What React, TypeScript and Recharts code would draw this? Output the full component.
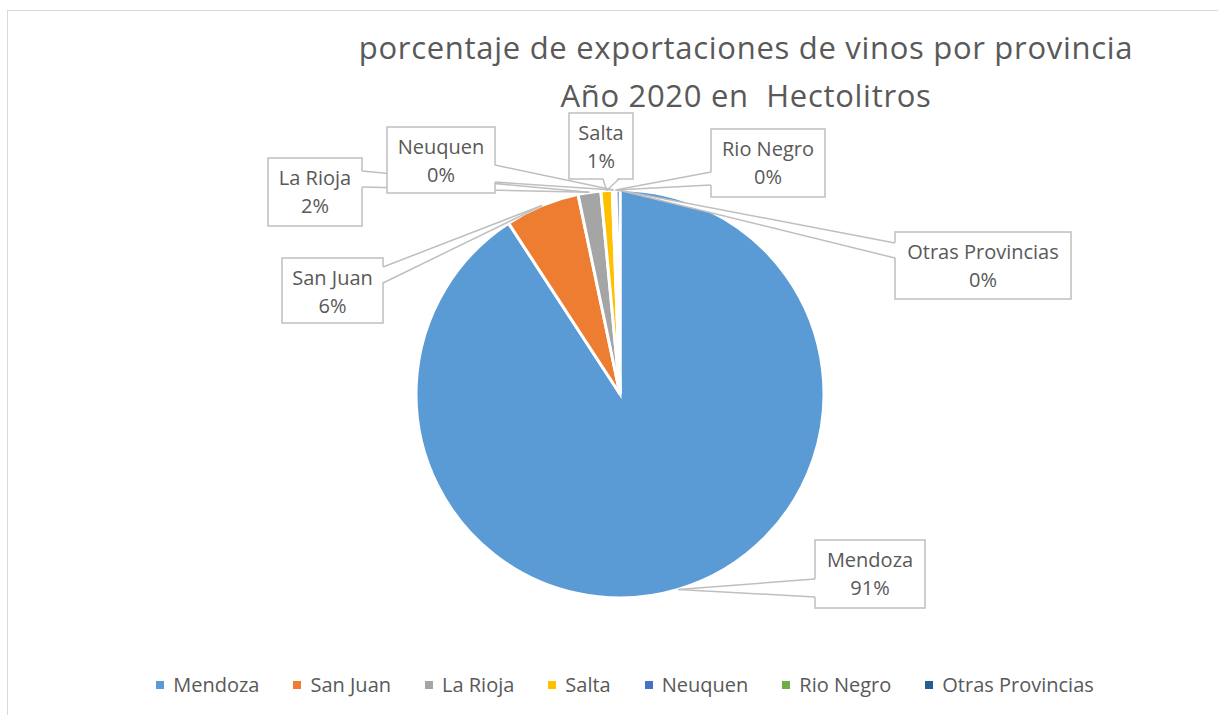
import React from 'react';
import { PieChart, Pie, Cell, Legend } from 'recharts';

const provinces = ['Mendoza', 'San Juan', 'La Rioja', 'Salta', 'Neuquen', 'Rio Negro', 'Otras Provincias'];
const shares = [90.8, 5.9, 1.8, 0.9, 0.2, 0.1, 0.3];
const sliceColors = ['#5B9BD5', '#ED7D31', '#A5A5A5', '#FFC000', '#4472C4', '#70AD47', '#255E91'];
const titleLines = ['porcentaje de exportaciones de vinos por provincia', 'Año 2020 en  Hectolitros'];

const data = provinces.map((name, i) => ({ name, value: shares[i] }));

// callout box placement (page px), side the pointer leaves from, and pointer base span
type Box = { x: number; y: number; w: number; h: number; side: 'left' | 'right' | 'bottom'; b0: number; b1: number };
const calloutBoxes: Box[] = [
  { x: 815, y: 540, w: 110, h: 68, side: 'left', b0: 579, b1: 597 },
  { x: 282, y: 258, w: 101, h: 65, side: 'right', b0: 267, b1: 283 },
  { x: 268, y: 158, w: 94, h: 68, side: 'right', b0: 171, b1: 187 },
  { x: 569, y: 113, w: 64, h: 66, side: 'bottom', b0: 603, b1: 619 },
  { x: 387, y: 127, w: 108, h: 66, side: 'right', b0: 165, b1: 182 },
  { x: 711, y: 129, w: 114, h: 68, side: 'left', b0: 172, b1: 185 },
  { x: 895, y: 232, w: 176, h: 67, side: 'left', b0: 243, b1: 258 },
];

const FONT = '"Open Sans", sans-serif';
const TEXT = '#595959';
const LINE = '#bfbfbf';
const RAD = Math.PI / 180;

const renderCallout = (props: any) => {
  const { cx, cy, midAngle, outerRadius, percent, index } = props;
  const box = calloutBoxes[index];
  if (!box) return null;
  const tx = cx + outerRadius * Math.cos(-midAngle * RAD);
  const ty = cy + outerRadius * Math.sin(-midAngle * RAD);
  let p0: number[], p1: number[], q0: number[], q1: number[];
  if (box.side === 'left') {
    p0 = [box.x, box.b0]; p1 = [box.x, box.b1];
    q0 = [box.x + 2, box.b0]; q1 = [box.x + 2, box.b1];
  } else if (box.side === 'right') {
    p0 = [box.x + box.w, box.b0]; p1 = [box.x + box.w, box.b1];
    q0 = [box.x + box.w - 2, box.b0]; q1 = [box.x + box.w - 2, box.b1];
  } else {
    p0 = [box.b0, box.y + box.h]; p1 = [box.b1, box.y + box.h];
    q0 = [box.b0, box.y + box.h - 2]; q1 = [box.b1, box.y + box.h - 2];
  }
  const midX = box.x + box.w / 2;
  return (
    <g key={`callout-${index}`}>
      <rect x={box.x} y={box.y} width={box.w} height={box.h} fill="#fff" stroke={LINE} strokeWidth={1.5} />
      <polygon points={`${q0[0]},${q0[1]} ${tx},${ty} ${q1[0]},${q1[1]}`} fill="#fff" stroke="none" />
      <line x1={p0[0]} y1={p0[1]} x2={tx} y2={ty} stroke={LINE} strokeWidth={1.5} />
      <line x1={p1[0]} y1={p1[1]} x2={tx} y2={ty} stroke={LINE} strokeWidth={1.5} />
      <text x={midX} y={box.y + 27} textAnchor="middle" fill={TEXT} fontSize={20} fontFamily={FONT}>
        {provinces[index]}
      </text>
      <text x={midX} y={box.y + 55} textAnchor="middle" fill={TEXT} fontSize={20} fontFamily={FONT}>
        {`${Math.round(percent * 100)}%`}
      </text>
    </g>
  );
};

const renderLegend = () => (
  <div style={{ display: 'flex', justifyContent: 'center', alignItems: 'center', fontFamily: FONT, fontSize: 20, color: TEXT }}>
    {provinces.map((name, i) => (
      <div key={name} style={{ display: 'flex', alignItems: 'center', marginRight: i < provinces.length - 1 ? 34 : 0 }}>
        <span style={{ width: 8, height: 8, background: sliceColors[i], marginRight: 9, display: 'inline-block' }} />
        <span>{name}</span>
      </div>
    ))}
  </div>
);

export default function App() {
  return (
    <div style={{ position: 'fixed', left: 0, top: 0, width: 1218, height: 715, overflow: 'hidden', background: '#fff' }}>
      <div
        style={{
          position: 'absolute', left: 7, top: 10, width: 1476, height: 720,
          border: '1.5px solid #d9d9d9', boxSizing: 'border-box',
        }}
      />
      <svg width={1218} height={715} style={{ position: 'absolute', left: 0, top: 0 }}>
        {titleLines.map((t, i) => (
          <text
            key={i}
            x={746}
            y={59 + i * 48}
            textAnchor="middle"
            fill={TEXT}
            fontSize={31}
            letterSpacing={0.7}
            fontFamily={FONT}
            style={{ whiteSpace: 'pre' }}
          >
            {t}
          </text>
        ))}
      </svg>
      <div style={{ position: 'absolute', left: 0, top: 0 }}>
        <PieChart width={1218} height={715} margin={{ top: 0, right: 0, bottom: 0, left: 0 }}>
          <Pie
            data={data}
            dataKey="value"
            nameKey="name"
            cx={620}
            cy={394}
            outerRadius={204}
            startAngle={90}
            endAngle={-270}
            stroke="#fff"
            strokeWidth={3}
            label={renderCallout}
            labelLine={false}
            isAnimationActive={false}
          >
            {data.map((d, i) => (
              <Cell key={d.name} fill={sliceColors[i]} />
            ))}
          </Pie>
          <Legend
            content={renderLegend}
            wrapperStyle={{ position: 'absolute', left: 0, top: 671, bottom: 'auto', width: 1250 }}
          />
        </PieChart>
      </div>
    </div>
  );
}
